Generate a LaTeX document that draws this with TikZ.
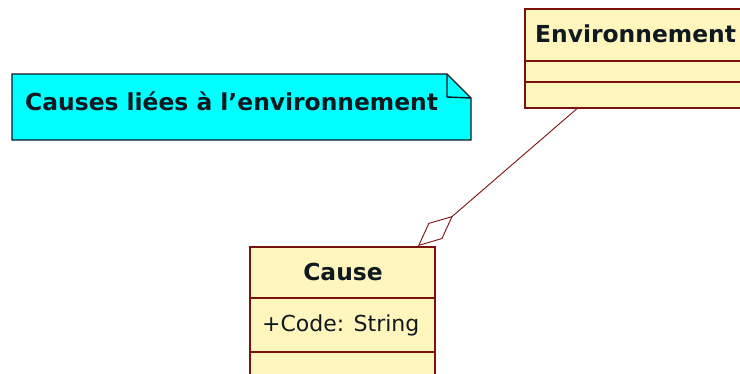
\documentclass[tikz,border=0pt]{standalone}
\usepackage{fontspec}
\setmainfont{DejaVu Sans}[Ligatures=ResetAll]
\usetikzlibrary{arrows.meta,calc}
\definecolor{umlborder}{HTML}{7A1010}
\definecolor{umlfill}{HTML}{FFF6BE}
\definecolor{notefill}{HTML}{00FFFF}
\definecolor{txt}{HTML}{101820}
\tikzset{
  classbox/.style={draw=umlborder, fill=umlfill, line width=1.6pt, anchor=north west, inner sep=0pt},
  sepline/.style={draw=umlborder, line width=1.6pt},
  titletext/.style={font=\bfseries\fontsize{23.4}{26}\selectfont, text=txt, inner sep=0pt},
  attrtext/.style={font=\fontsize{22}{26}\selectfont, text=txt, inner sep=0pt},
  assoc/.style={draw=umlborder, line width=0.9pt},
}
\begin{document}
\begin{tikzpicture}[x=1pt,y=-1pt]
\useasboundingbox (0,0) rectangle (740,373);
\clip (0,0) rectangle (740,373);
% note
\coordinate (nA) at (12,74);
\coordinate (nB) at (447,74);
\coordinate (nC) at (471,98);
\coordinate (nD) at (471,140);
\coordinate (nE) at (12,140);
\draw[fill=notefill, draw=txt, line width=1.4pt] (nA) -- (nB) -- (nC) -- (nD) -- (nE) -- cycle;
\draw[draw=txt, line width=1.4pt] (nB) -- (447,97) -- (nC);
\node[titletext, anchor=west] (notetext) at (25,101) {Causes liées à l'environnement};
% Environnement class
\node[classbox, minimum width=240pt, minimum height=99pt] (env) at (524,8) {};
\draw[sepline] (524,61) -- (764,61);
\draw[sepline] (524,82) -- (764,82);
\node[titletext, anchor=west] (envname) at (535,34) {Environnement};
% Cause class
\node[classbox, minimum width=185pt, minimum height=140pt] (cause) at (249,246) {};
\draw[sepline] (249,298) -- (434,298);
\draw[sepline] (249,352) -- (434,352);
\node[titletext] (causename) at (343,272) {Cause};
\node[attrtext, anchor=west] (causeattr) at (262,325) {+Code: String};
% aggregation
\coordinate (envpt) at ($(env.south west)+(53,0)$);
\coordinate (causept) at ($(cause.north west)+(169,0)$);
\draw[assoc, -{Diamond[open, fill=white, length=46pt, width=21pt, line width=0.9pt]}] (envpt) -- (causept);
\end{tikzpicture}
\end{document}
